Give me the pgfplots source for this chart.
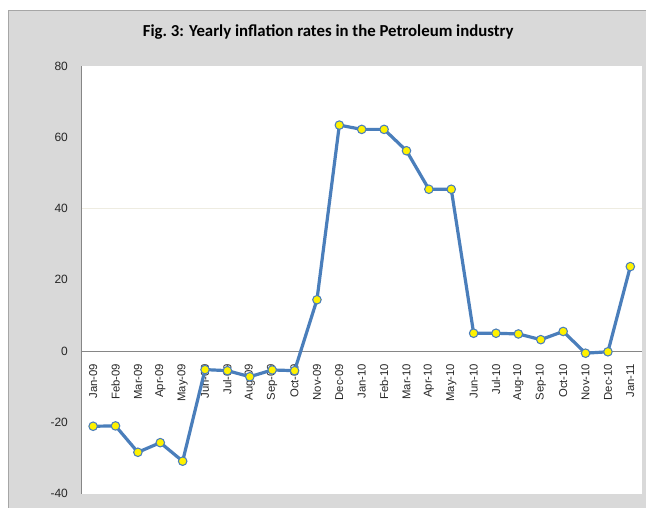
\documentclass[border=0pt]{standalone}
\usepackage{pgfplots}
\pgfplotsset{compat=1.18}
\usepackage{fontspec}
\setmainfont{Liberation Sans}
\newfontfamily\calibri{Carlito}
\definecolor{bg}{HTML}{D9D9D9}
\definecolor{framec}{HTML}{A6A6A6}
\definecolor{linec}{HTML}{4A7EBB}
\definecolor{gridc}{HTML}{EEECE1}
\definecolor{axc}{HTML}{868686}
\begin{document}
\begin{tikzpicture}[x=0.75pt,y=0.75pt]
\fill[white] (0,0) rectangle (646,508);
\fill[bg] (9,0) rectangle (646,497);
\draw[framec, line width=0.75pt] (9,0) -- (9,497) -- (646,497);
\node[font=\calibri\bfseries\fontsize{12.6}{14}\selectfont] at (328.5,476) {Fig.\ 3: Yearly inflation rates in the Petroleum industry};
\begin{axis}[
  at={(61.5pt,10.5pt)}, anchor=south west,
  scale only axis, width=420pt, height=321pt,
  axis background/.style={fill=white},
  axis x line=middle, axis y line=left,
  x axis line style={-, draw=axc, line width=0.75pt},
  y axis line style={-, draw=axc, line width=0.75pt},
  xmin=-0.5, xmax=24.5, ymin=-40, ymax=80,
  ytick={-40,-20,0,20,40,60,80},
  major tick length=0pt,
  extra y ticks={40}, extra y tick labels={},
  extra y tick style={grid=major, major grid style={draw=gridc, line width=0.75pt}},
  xtick={0,...,24},
  xticklabels={Jan-09,Feb-09,Mar-09,Apr-09,May-09,Jun-09,Jul-09,Aug-09,Sep-09,Oct-09,Nov-09,Dec-09,Jan-10,Feb-10,Mar-10,Apr-10,May-10,Jun-10,Jul-10,Aug-10,Sep-10,Oct-10,Nov-10,Dec-10,Jan-11},
  xticklabel style={yshift=-6pt, rotate=90, anchor=east, font=\fontsize{8.5}{10}\selectfont, text=black!85},
  yticklabel style={xshift=-7pt, font=\fontsize{9}{10}\selectfont, text=black!85},
  /pgf/number format/assume math mode=true,
  clip=false,
]
\addplot[color=linec, line width=2.4pt, mark=*, mark size=3.2pt,
  mark options={fill=yellow, draw=linec, line width=0.8pt}]
coordinates {
(0,-21.1) (1,-21.0) (2,-28.4) (3,-25.7) (4,-30.9)
(5,-5.2) (6,-5.5) (7,-7.2) (8,-5.3) (9,-5.5)
(10,14.4) (11,63.4) (12,62.2) (13,62.2) (14,56.2)
(15,45.4) (16,45.4) (17,5.0) (18,5.0) (19,4.8)
(20,3.2) (21,5.5) (22,-0.6) (23,-0.2) (24,23.7)
};
\end{axis}
\end{tikzpicture}
\end{document}
